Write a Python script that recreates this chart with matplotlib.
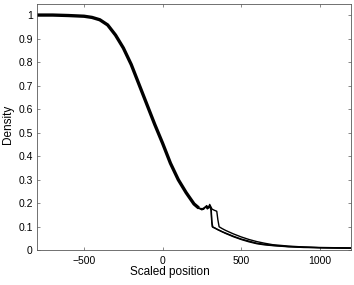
import matplotlib
matplotlib.use("Agg")
import matplotlib.pyplot as plt

plt.rcParams['font.family'] = ['Liberation Sans', 'DejaVu Sans']

# shared front part of the profiles
body_x = [-800, -700, -600, -500, -450, -400, -350, -300, -250, -200, -150,
          -100, -50, 0, 50, 100, 150, 200, 230]
body_y = [1.0, 1.0, 0.998, 0.995, 0.99, 0.98, 0.958, 0.915, 0.86, 0.79, 0.705,
          0.62, 0.535, 0.455, 0.37, 0.30, 0.245, 0.197, 0.18]

# bump + early drop, lower tail
a_x = [230, 245, 260, 270, 280, 290, 300, 308, 312, 316, 330, 350, 400, 450,
       500, 550, 600, 650, 700, 800, 900, 1000, 1100, 1200]
a_y = [0.18, 0.176, 0.174, 0.182, 0.186, 0.18, 0.19, 0.178, 0.13, 0.1, 0.096,
       0.088, 0.072, 0.058, 0.046, 0.036, 0.028, 0.023, 0.02, 0.015, 0.012,
       0.011, 0.01, 0.009]

# bump + late drop, upper tail
b_x = [230, 250, 265, 280, 292, 300, 315, 330, 345, 352, 360, 380, 400, 450,
       500, 550, 600, 650, 700, 800, 900, 1000, 1100, 1200]
b_y = [0.18, 0.172, 0.178, 0.19, 0.182, 0.195, 0.175, 0.17, 0.166, 0.13, 0.1,
       0.092, 0.085, 0.07, 0.057, 0.046, 0.037, 0.03, 0.024, 0.018, 0.014,
       0.012, 0.011, 0.01]

# third run, close to the first one
c_x = [230, 255, 275, 285, 300, 310, 314, 320, 340, 380, 450, 500, 600, 700,
       800, 1000, 1200]
c_y = [0.178, 0.177, 0.185, 0.176, 0.185, 0.17, 0.12, 0.098, 0.092, 0.079,
       0.06, 0.048, 0.03, 0.021, 0.016, 0.011, 0.009]

fig = plt.figure(figsize=(3.54, 2.85), dpi=100)
ax = fig.add_axes([37 / 354, 1 - 250.3 / 285, 314 / 354, 246.3 / 285])

ax.plot(body_x, body_y, color='k', lw=2.4, solid_capstyle='butt')
for xs, ys in [(a_x, a_y), (b_x, b_y), (c_x, c_y)]:
    ax.plot(xs, ys, color='k', lw=1.0)

ax.set_xlim(-800, 1200)
ax.set_ylim(0, 1.047)
ax.set_xticks([-500, 0, 500, 1000])
ax.set_yticks([i / 10 for i in range(11)])
ax.set_yticklabels(['0', '0.1', '0.2', '0.3', '0.4', '0.5', '0.6', '0.7',
                    '0.8', '0.9', '1'])

for s in ax.spines.values():
    s.set_color('0.35')
    s.set_linewidth(0.6)
ax.tick_params(direction='in', length=2.5, width=0.5, color='0.35',
               labelsize=7.5, top=True, right=True)
ax.tick_params(axis='y', pad=3)
ax.tick_params(axis='x', pad=4)

ax.set_xlabel('Scaled position', fontsize=8.5)
ax.set_ylabel('Density', fontsize=8.5)
ax.xaxis.set_label_coords(0.424, -0.062)
ax.yaxis.set_label_coords(-0.074, 0.51)

fig.savefig('out.png', dpi=100)
